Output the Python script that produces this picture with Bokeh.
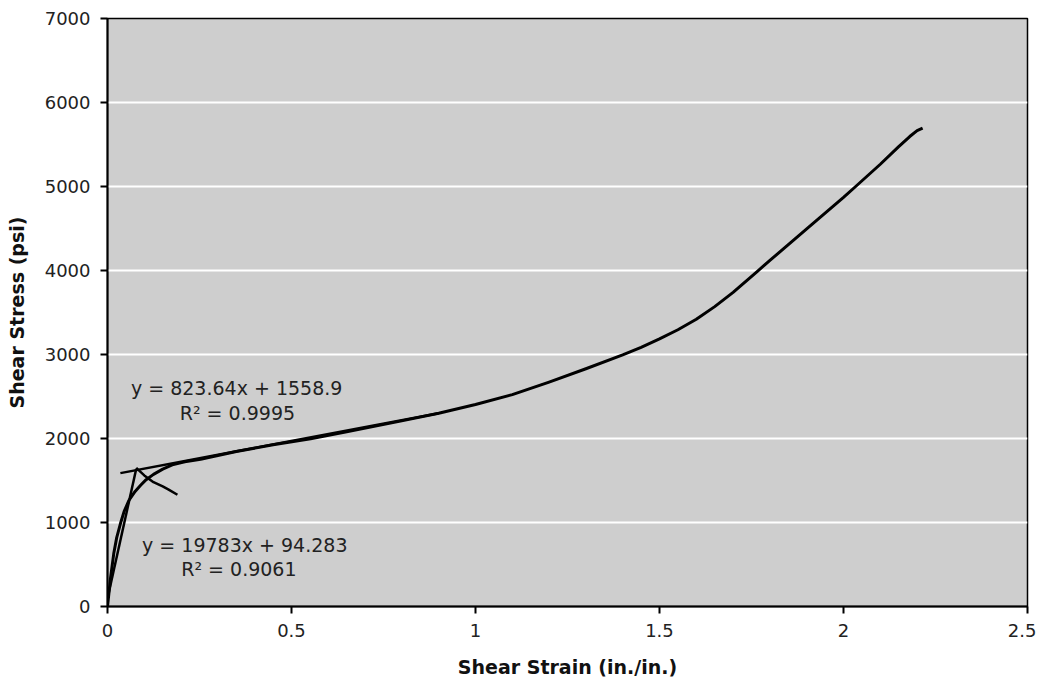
from bokeh.plotting import figure
from bokeh.models import Range1d, FixedTicker, ColumnDataSource
from bokeh.core.properties import value
from bokeh.embed import file_html
from bokeh.resources import INLINE

# ---- data ----
strain_main = [0, 0.008, 0.017, 0.025, 0.035, 0.045, 0.058, 0.075, 0.09, 0.105, 0.125,
               0.15, 0.179, 0.21, 0.253, 0.35, 0.45, 0.552, 0.65, 0.796, 0.9, 1.0,
               1.1, 1.2, 1.3, 1.4, 1.45, 1.5, 1.55, 1.6, 1.65, 1.7, 1.766, 1.8, 1.9, 2.0,
               2.033, 2.1, 2.15, 2.18, 2.2, 2.215]
stress_main = [0, 330, 630, 820, 985, 1130, 1262, 1370, 1443, 1510, 1573,
               1635, 1691, 1722, 1754, 1845, 1925, 1998, 2080, 2207, 2300, 2404,
               2522, 2672, 2830, 2995, 3085, 3185, 3295, 3420, 3570, 3740, 3990, 4120, 4495, 4870,
               5000, 5265, 5475, 5595, 5665, 5695]

strain_drop = [0.078, 0.10, 0.125, 0.15, 0.165, 0.19]
stress_drop = [1650, 1560, 1480, 1430, 1395, 1330]

# trendlines (slope, intercept, x extent)
trend1_slope, trend1_icpt = 823.64, 1558.9
trend1_x = [0.035, 0.9]
trend2_slope, trend2_icpt = 19783, 94.283
trend2_x = [0.0, 0.078]

trend1_label = ["y = 823.64x + 1558.9", "R\u00b2 = 0.9995"]
trend2_label = ["y = 19783x + 94.283", "R\u00b2 = 0.9061"]

x_ticks = [0, 0.5, 1, 1.5, 2, 2.5]
y_ticks = [0, 1000, 2000, 3000, 4000, 5000, 6000, 7000]

FONT = "DejaVu Sans"

p = figure(width=1036, height=680, output_backend="svg", toolbar_location=None,
           x_range=Range1d(0, 2.5), y_range=Range1d(0, 7000),
           min_border_left=107, min_border_top=18, min_border_right=9, min_border_bottom=70)

p.border_fill_color = "white"
p.background_fill_color = "#CECECE"
p.outline_line_color = "black"
p.outline_line_width = 1.5

p.xgrid.visible = False
p.ygrid.grid_line_color = "white"
p.ygrid.grid_line_width = 2
p.ygrid.ticker = FixedTicker(ticks=y_ticks)

p.xaxis.ticker = FixedTicker(ticks=x_ticks)
p.yaxis.ticker = FixedTicker(ticks=y_ticks)
p.xaxis.major_label_overrides = {0: "0", 0.5: "0.5", 1: "1", 1.5: "1.5", 2: "2", 2.5: "2.5"}

for ax in (p.xaxis[0], p.yaxis[0]):
    ax.axis_line_color = "black"
    ax.axis_line_width = 2
    ax.major_tick_line_color = "black"
    ax.major_tick_line_width = 2
    ax.major_tick_out = 7
    ax.major_tick_in = 0
    ax.minor_tick_line_color = None
    ax.major_label_text_font = FONT
    ax.major_label_text_font_size = "18px"
    ax.major_label_text_color = "#222222"
    ax.axis_label_text_font = FONT
    ax.axis_label_text_font_style = "bold"
    ax.axis_label_text_font_size = "19px"
    ax.axis_label_text_color = "#111111"

p.xaxis.axis_label = "Shear Strain (in./in.)"
p.yaxis.axis_label = "Shear Stress (psi)"
p.xaxis.major_label_standoff = 10
p.xaxis.axis_label_standoff = 16
p.yaxis.major_label_standoff = 10
p.yaxis.axis_label_standoff = 14

# main curve
p.line(strain_main, stress_main, line_color="black", line_width=3, line_join="round")
# post-peak branch
p.line(strain_drop, stress_drop, line_color="black", line_width=2.5, line_join="round")

# trendlines
t1y = [trend1_slope * x + trend1_icpt for x in trend1_x]
t2y = [trend2_slope * x + trend2_icpt for x in trend2_x]
p.line(trend1_x, t1y, line_color="black", line_width=2.5)
p.line(trend2_x, t2y, line_color="black", line_width=2.5)

# trendline labels
lab_src = ColumnDataSource(dict(
    x=[0.351, 0.353, 0.373, 0.357],
    y=[2601, 2306, 733, 449],
    t=[trend1_label[0], trend1_label[1], trend2_label[0], trend2_label[1]],
))
p.text(x="x", y="y", text="t", source=lab_src, text_align="center", text_baseline="middle",
       text_font=value(FONT), text_font_size="19px", text_color="#222222")

open("out.html", "w").write(file_html(p, INLINE))
